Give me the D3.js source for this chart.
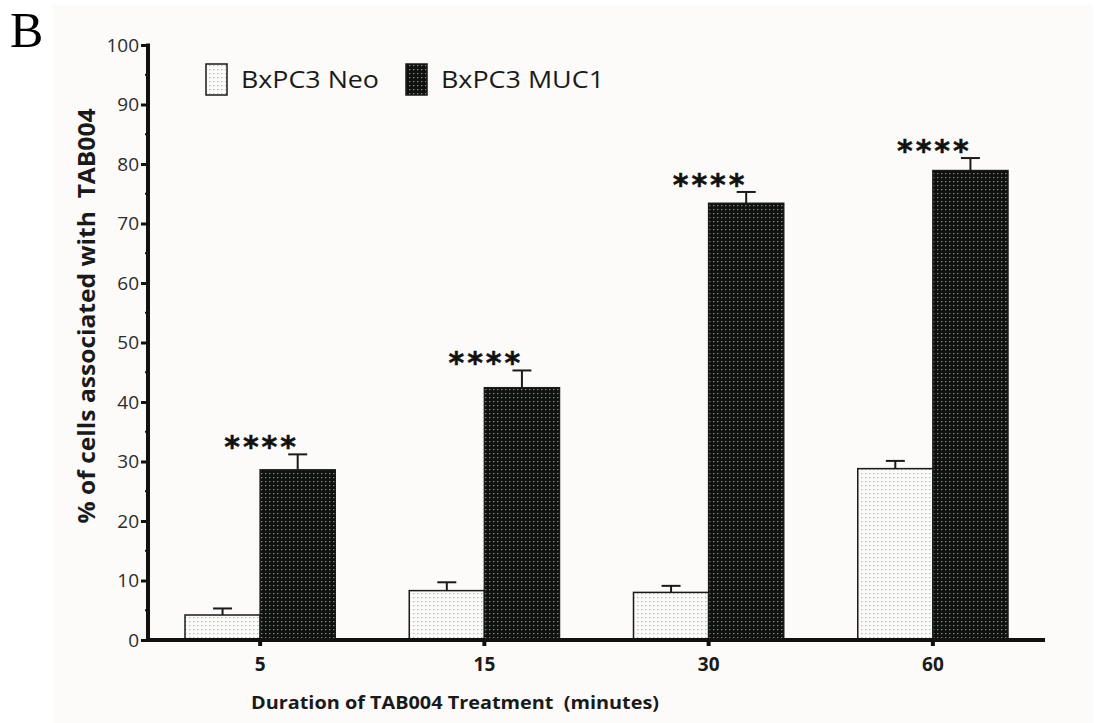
<!DOCTYPE html>
<html>
<head>
<meta charset="utf-8">
<script src="https://cdn.jsdelivr.net/npm/d3@7"></script>
<style>
  html, body { margin: 0; padding: 0; background: #ffffff; }
  svg { display: block; }
  text.pre { white-space: pre; }
</style>
</head>
<body>
<svg id="chart" width="1101" height="723"></svg>
<script>
// ---- data ----
const categories = ["5", "15", "30", "60"];
const seriesNames = ["BxPC3 Neo", "BxPC3 MUC1"];
const neoValues = [4.2, 8.3, 8.0, 28.8];
const neoErrors = [1.1, 1.4, 1.1, 1.3];
const muc1Values = [28.6, 42.4, 73.4, 78.9];
const muc1Errors = [2.6, 2.9, 1.9, 2.1];
const significance = ["****", "****", "****", "****"];
const yTicks = [0, 10, 20, 30, 40, 50, 60, 70, 80, 90, 100];
const yMinorTicks = [5, 15, 25, 35, 45, 55, 65, 75, 85, 95];
const yTitle = "% of cells associated with  TAB004";
const xTitle = "Duration of TAB004 Treatment  (minutes)";
const panelLabel = "B";

const svg = d3.select("#chart");

// defs: patterns
const defs = svg.append("defs");
const pLight = defs.append("pattern").attr("id", "pLight")
  .attr("patternUnits", "userSpaceOnUse").attr("width", 4).attr("height", 4);
pLight.append("rect").attr("width", 4).attr("height", 4).attr("fill", "#fbfbf9");
pLight.append("rect").attr("x", 1).attr("y", 1).attr("width", 1.4).attr("height", 1.2).attr("fill", "#b9b9b6");

const pDark = defs.append("pattern").attr("id", "pDark")
  .attr("patternUnits", "userSpaceOnUse").attr("width", 4).attr("height", 4);
pDark.append("rect").attr("width", 4).attr("height", 4).attr("fill", "#0f110e");
pDark.append("rect").attr("x", 1).attr("y", 1).attr("width", 1.4).attr("height", 1.2).attr("fill", "#8a8a86");

// background panel
svg.append("rect").attr("x", 0).attr("y", 0).attr("width", 1101).attr("height", 723).attr("fill", "#ffffff");
svg.append("rect").attr("x", 53).attr("y", 5).attr("width", 1040).attr("height", 718).attr("fill", "#fcfbf9");

// scales
const x0 = d3.scaleBand().domain(categories).range([148, 1045])
  .paddingInner(0.33).paddingOuter(0.165);
const x1 = d3.scaleBand().domain(seriesNames).range([0, x0.bandwidth()]).padding(0);
const y = d3.scaleLinear().domain([0, 100]).range([640, 45]);

const fills = { "BxPC3 Neo": "url(#pLight)", "BxPC3 MUC1": "url(#pDark)" };

const rows = [];
categories.forEach((c, i) => {
  rows.push({ cat: c, s: "BxPC3 Neo", v: neoValues[i], e: neoErrors[i] });
  rows.push({ cat: c, s: "BxPC3 MUC1", v: muc1Values[i], e: muc1Errors[i] });
});

// error bars
const eb = svg.append("g");
rows.forEach(d => {
  const cx = x0(d.cat) + x1(d.s) + x1.bandwidth() / 2;
  eb.append("line").attr("x1", cx).attr("x2", cx)
    .attr("y1", y(d.v)).attr("y2", y(d.v + d.e))
    .attr("stroke", "#1a1a1a").attr("stroke-width", 2);
  eb.append("line").attr("x1", cx - 9.5).attr("x2", cx + 9.5)
    .attr("y1", y(d.v + d.e)).attr("y2", y(d.v + d.e))
    .attr("stroke", "#1a1a1a").attr("stroke-width", 2);
});

// bars
svg.append("g").selectAll("rect").data(rows).join("rect")
  .attr("x", d => x0(d.cat) + x1(d.s))
  .attr("y", d => y(d.v))
  .attr("width", x1.bandwidth())
  .attr("height", d => y(0) - y(d.v))
  .attr("fill", d => fills[d.s])
  .attr("stroke", "#1a1a1a")
  .attr("stroke-width", 1.5);

// significance stars
svg.append("g").selectAll("text").data(categories).join("text")
  .attr("x", (c) => x0(c) + x0.bandwidth() / 2 + 1.5)
  .attr("y", (c, i) => y(muc1Values[i] + muc1Errors[i]) + 3)
  .attr("text-anchor", "middle")
  .attr("font-family", "DejaVu Sans")
  .attr("font-weight", "bold")
  .attr("font-size", 30)
  .attr("letter-spacing", 3)
  .attr("fill", "#111")
  .attr("stroke", "#111").attr("stroke-width", 0.5)
  .text((c, i) => significance[i]);

// y axis
const yAxis = d3.axisLeft(y).tickValues(yTicks).tickSize(7).tickPadding(2).tickFormat(d3.format("d"));
const gy = svg.append("g").attr("transform", "translate(148,0)").call(yAxis);
gy.select(".domain").remove();
gy.selectAll(".tick line").attr("stroke", "#111").attr("stroke-width", 3);
gy.selectAll(".tick text").attr("font-family", "Open Sans").attr("font-size", 19)
  .attr("fill", "#2b2b2b");
// minor ticks
svg.append("g").selectAll("line").data(yMinorTicks).join("line")
  .attr("x1", 145).attr("x2", 148)
  .attr("y1", d => y(d)).attr("y2", d => y(d))
  .attr("stroke", "#111").attr("stroke-width", 2);
// y axis line
svg.append("line").attr("x1", 148).attr("x2", 148)
  .attr("y1", y(100) - 1.5).attr("y2", y(0) + 2)
  .attr("stroke", "#111").attr("stroke-width", 4);

// x axis
const xAxis = d3.axisBottom(x0).tickSize(6).tickPadding(12);
const gx = svg.append("g").attr("transform", `translate(0,${y(0)})`).call(xAxis);
gx.select(".domain").remove();
gx.selectAll(".tick line").attr("stroke", "#111").attr("stroke-width", 4);
gx.selectAll(".tick text").attr("font-family", "Open Sans").attr("font-weight", "bold")
  .attr("font-size", 19).attr("fill", "#1a1a1a");
svg.append("line").attr("x1", 146).attr("x2", 1045)
  .attr("y1", y(0)).attr("y2", y(0))
  .attr("stroke", "#111").attr("stroke-width", 4);

// axis titles
svg.append("text").attr("class", "pre")
  .attr("transform", "translate(95,316) rotate(-90)")
  .attr("text-anchor", "middle")
  .attr("font-family", "Open Sans").attr("font-weight", "bold")
  .attr("font-size", 23).attr("fill", "#1a1a1a")
  .attr("textLength", 415).attr("lengthAdjust", "spacingAndGlyphs")
  .text(yTitle);

svg.append("text").attr("class", "pre")
  .attr("x", 455).attr("y", 709)
  .attr("text-anchor", "middle")
  .attr("font-family", "Open Sans").attr("font-weight", "bold")
  .attr("font-size", 18).attr("fill", "#1a1a1a")
  .attr("textLength", 408).attr("lengthAdjust", "spacingAndGlyphs")
  .text(xTitle);

// legend
const legendX = [206, 406];
const legendTextW = [138, 163];
seriesNames.forEach((s, i) => {
  svg.append("rect").attr("x", legendX[i]).attr("y", 64).attr("width", 21).attr("height", 31)
    .attr("fill", fills[s]).attr("stroke", "#1a1a1a").attr("stroke-width", 1.5);
  svg.append("text").attr("x", legendX[i] + 35).attr("y", 88)
    .attr("font-family", "Open Sans").attr("font-size", 23).attr("fill", "#1a1a1a")
    .attr("textLength", legendTextW[i]).attr("lengthAdjust", "spacingAndGlyphs")
    .text(s);
});

// panel label
svg.append("text").attr("x", 10).attr("y", 47)
  .attr("font-family", "Liberation Serif").attr("font-size", 50).attr("fill", "#000")
  .text(panelLabel);
</script>
</body>
</html>
